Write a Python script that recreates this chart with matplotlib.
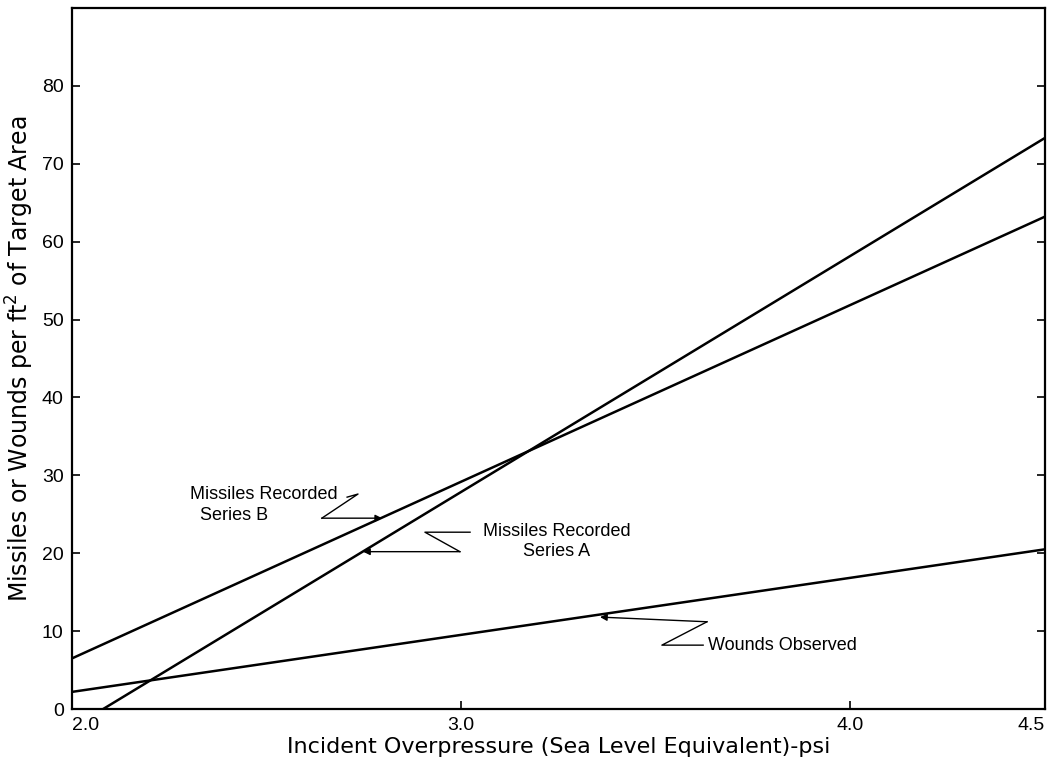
import numpy as np
import matplotlib
matplotlib.use('Agg')
import matplotlib.pyplot as plt

# straight-line fits (end points)
x_b = [2.0, 4.5]
y_b = [6.5, 63.2]          # Missiles Recorded, Series B
x_a = [2.08, 4.5]
y_a = [0.0, 73.3]          # Missiles Recorded, Series A
x_w = [2.0, 4.5]
y_w = [2.2, 20.5]          # Wounds Observed

xticks = [2.0, 3.0, 4.0, 4.5]
xtick_labels = ['2.0', '3.0', '4.0', '4.5']
yticks = [0, 10, 20, 30, 40, 50, 60, 70, 80]

plt.rcParams['font.family'] = ['Liberation Sans', 'DejaVu Sans']

fig = plt.figure(figsize=(10.5, 7.67), dpi=100)
ax = fig.add_axes([0.0686, 0.0756, 0.9264, 0.914])

lw = 1.8
ax.plot(x_b, y_b, color='k', lw=lw)
ax.plot(x_a, y_a, color='k', lw=lw)
ax.plot(x_w, y_w, color='k', lw=lw)

ax.set_xlim(2.0, 4.5)
ax.set_ylim(0, 90)
ax.set_xticks(xticks)
ax.set_xticklabels(xtick_labels)
ax.set_yticks(yticks)
ax.tick_params(direction='in', length=6, width=1.2, labelsize=14, right=True, pad=6)
for s in ax.spines.values():
    s.set_linewidth(1.6)
labs = ax.get_xticklabels()
labs[0].set_ha('left')
labs[-1].set_ha('right')

ax.set_xlabel('Incident Overpressure (Sea Level Equivalent)-psi', fontsize=16,
              family=['Liberation Sans Narrow', 'DejaVu Sans'], labelpad=2)
ax.set_ylabel('Missiles or Wounds per ft$^2$ of Target Area', fontsize=17,
              family=['Liberation Sans Narrow', 'DejaVu Sans'], labelpad=4)

# annotation callouts (zig-zag leaders with arrow heads)
def leader(pts):
    xs = [p[0] for p in pts]
    ys = [p[1] for p in pts]
    ax.plot(xs[:-1], ys[:-1], color='k', lw=1.0)
    ax.annotate('', xy=pts[-1], xytext=pts[-2],
                arrowprops=dict(arrowstyle='-|>', color='k', lw=1.0,
                                mutation_scale=10, shrinkA=0, shrinkB=0))

ax.text(2.303, 26.2, 'Missiles Recorded\n  Series B', fontsize=13, ha='left',
        va='center', linespacing=1.3)
leader([(2.707, 27.2), (2.735, 27.6), (2.642, 24.5), (2.797, 24.5)])

ax.text(3.245, 21.5, 'Missiles Recorded\nSeries A', fontsize=13, ha='center',
        va='center', linespacing=1.3, multialignment='center')
leader([(3.023, 22.7), (2.907, 22.7), (2.997, 20.2), (2.748, 20.2)])

ax.text(3.635, 8.2, 'Wounds Observed', fontsize=13, ha='left', va='center')
leader([(3.622, 8.2), (3.516, 8.2), (3.632, 11.2), (3.357, 11.8)])

fig.savefig('out.png', dpi=100)
